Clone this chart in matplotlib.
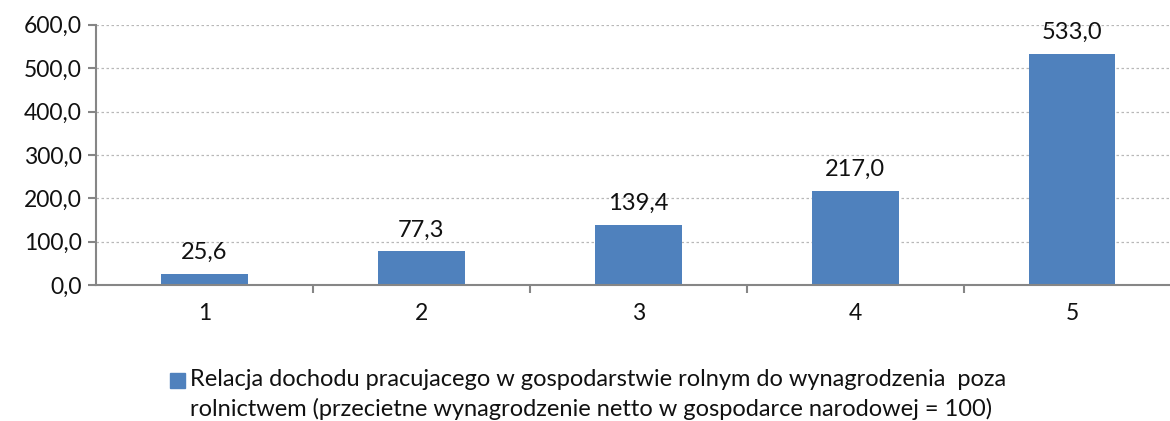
import matplotlib

matplotlib.use("Agg")
import matplotlib.pyplot as plt
from matplotlib.patches import Rectangle
from matplotlib.ticker import FuncFormatter, MultipleLocator

categories = ["1", "2", "3", "4", "5"]
values = [25.6, 77.3, 139.4, 217.0, 533.0]
legend_lines = [
    "Relacja dochodu pracujacego w gospodarstwie rolnym do wynagrodzenia  poza",
    "rolnictwem (przecietne wynagrodzenie netto w gospodarce narodowej = 100)",
]

BAR_COLOR = "#4F81BD"
AXIS_COLOR = "#868686"
TEXT_COLOR = "#111111"

plt.rcParams["font.family"] = ["Lato", "DejaVu Sans"]
plt.rcParams["font.size"] = 17

fig = plt.figure(figsize=(11.7, 4.21), dpi=100)
ax = fig.add_axes([0.082, 0.323, 0.927, 0.618])

x = list(range(len(categories)))
ax.bar(x, values, width=0.4, color=BAR_COLOR, zorder=3)

for xi, v in zip(x, values):
    ax.annotate(f"{v:.1f}".replace(".", ","), (xi, v), xytext=(0, 8),
                textcoords="offset points", ha="center", va="bottom",
                fontsize=17, color=TEXT_COLOR)

ax.set_xlim(-0.5, len(categories) - 0.5)
ax.set_ylim(0, 600)
ax.yaxis.set_major_locator(MultipleLocator(100))
ax.yaxis.set_major_formatter(FuncFormatter(lambda v, _: f"{v:.1f}".replace(".", ",")))

# category labels centred, ticks on boundaries
ax.set_xticks(x)
ax.set_xticklabels(categories)
ax.tick_params(axis="x", which="major", length=0, pad=13, labelcolor=TEXT_COLOR,
               labelsize=16.5)
ax.set_xticks([i + 0.5 for i in x[:-1]], minor=True)
ax.tick_params(axis="x", which="minor", length=6, width=1.5, color=AXIS_COLOR)
ax.tick_params(axis="y", length=6, width=1.5, color=AXIS_COLOR, pad=4,
               labelcolor=TEXT_COLOR, labelsize=16.5)

ax.grid(axis="y", linestyle=(0, (2, 2)), color="#b8b8b8", linewidth=0.9, zorder=0)
for side in ("top", "right"):
    ax.spines[side].set_visible(False)
for side in ("left", "bottom"):
    ax.spines[side].set_color(AXIS_COLOR)
    ax.spines[side].set_linewidth(1.5)
ax.spines["bottom"].set_zorder(4)

# legend: square marker + two lines of text
fig.patches.append(Rectangle((170 / 1170, 1 - 388 / 421), 15 / 1170, 15 / 421,
                             transform=fig.transFigure, color=BAR_COLOR))
fig.text(190 / 1170, 1 - 380 / 421, legend_lines[0], ha="left", va="center",
         fontsize=17, color=TEXT_COLOR)
fig.text(190 / 1170, 1 - 409 / 421, legend_lines[1], ha="left", va="center",
         fontsize=17, color=TEXT_COLOR)

fig.savefig("out.png", dpi=100)
